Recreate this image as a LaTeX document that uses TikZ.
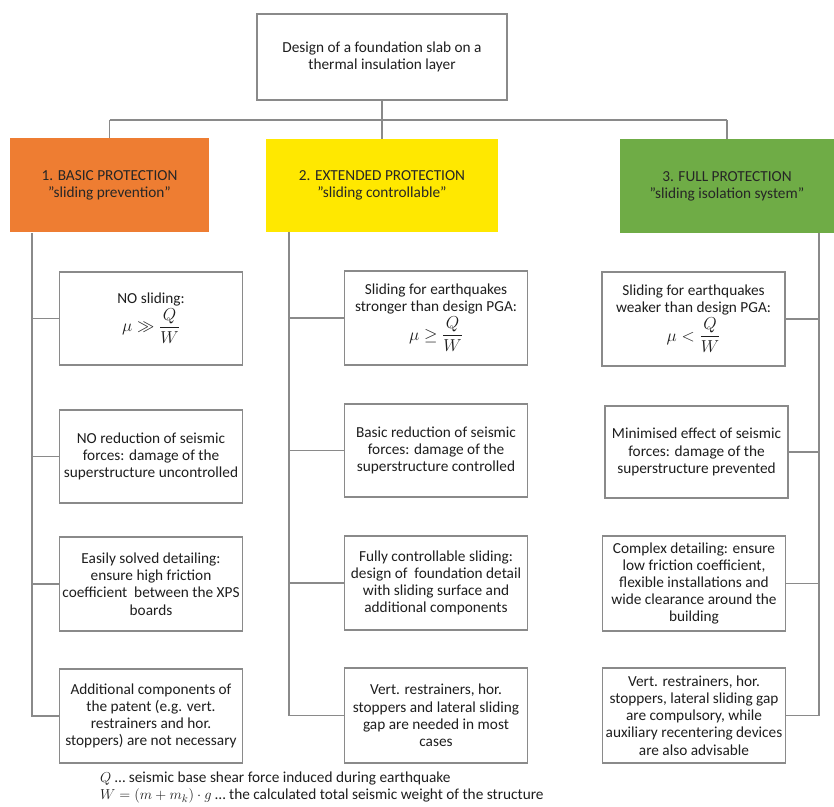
\documentclass[tikz,border=0pt]{standalone}
\usepackage{amsmath}
\usepackage{fontspec}
\setmainfont{Carlito}
% friction criterion, set a little larger than the body text
\newcommand\muratio[1]{{\fontsize{18}{20}\selectfont$\mu #1 \dfrac{Q}{W}$}}
\begin{document}
\definecolor{linegray}{HTML}{8A8A8A}
\definecolor{txt}{HTML}{1E1E1E}
\definecolor{orangebox}{HTML}{EE7D32}
\definecolor{yellowbox}{HTML}{FFE800}
\definecolor{greenbox}{HTML}{6FAC46}
\begin{tikzpicture}[x=1pt,y=-1pt,
  every node/.style={font=\fontsize{15.3}{17.2}\selectfont, text=txt, align=center, inner sep=0pt},
  wire/.style={draw=linegray, line width=1.4pt},
  headbox/.style={draw=linegray, line width=1.4pt, fill=white, minimum width=250pt, minimum height=86pt},
  levelbox/.style={minimum height=94pt, text=black!85},
  infobox/.style={draw=linegray, line width=1.4pt, fill=white, minimum width=183pt, minimum height=93pt}
]
\useasboundingbox (0,0) rectangle (834,806);
\fill[white] (0,0) rectangle (834,806);

% root
\node[headbox] (root) at (382,57) {Design of a foundation slab on a\\ thermal insulation layer};

% protection levels
\node[levelbox, fill=orangebox, minimum width=199pt] (basic) at (109.5,185) {1. BASIC PROTECTION\\ "sliding prevention"};
\node[levelbox, fill=yellowbox, minimum width=232pt, minimum height=93pt] (ext) at (382,185.5) {2. EXTENDED PROTECTION\\ "sliding controllable"};
\node[levelbox, fill=greenbox, minimum width=214pt] (full) at (727,186) {3. FULL PROTECTION\\ "sliding isolation system"};

% bus between root and levels
\coordinate (busL) at (basic.north |- 0,120);
\coordinate (busR) at (full.north |- 0,120);
\draw[wire] (busL) -- (busR);
\draw[wire] (root.south) -- (root.south |- busL);
\draw[wire] (busL) -- (basic.north);
\draw[wire] (root.south |- busL) -- (ext.north);
\draw[wire] (busR) -- (full.north);

% column 1
\node[infobox] (l1) at (151,318.5) {NO sliding:\\[1pt] \muratio{\gg}};
\node[infobox] (l2) at (151,456.5) {NO reduction of seismic\\ forces: damage of the\\ superstructure uncontrolled};
\node[infobox, minimum height=94pt] (l3) at (151,584) {Easily solved detailing:\\ ensure high friction\\ coefficient\ \ between the XPS\\ boards};
\node[infobox, minimum height=94pt] (l4) at (151,716) {Additional components of\\ the patent (e.g. vert.\\ restrainers and hor.\\ stoppers) are not necessary};

% column 2
\node[infobox, minimum height=94pt] (m1) at (436,318) {Sliding for earthquakes\\ stronger than design PGA:\\[1pt] \muratio{\geq}};
\node[infobox] (m2) at (436,450.5) {Basic reduction of seismic\\ forces: damage of the\\ superstructure controlled};
\node[infobox, minimum height=94pt] (m3) at (436,583) {Fully controllable sliding:\\ design of\ \ foundation detail\\ with sliding surface and\\ additional components};
\node[infobox, minimum height=95pt] (m4) at (436,715.5) {Vert. restrainers, hor.\\ stoppers and lateral sliding\\ gap are needed in most\\ cases};

% column 3
\node[infobox, minimum height=94pt] (r1) at (693.5,319) {Sliding for earthquakes\\ weaker than design PGA:\\[1pt] \muratio{<}};
\node[infobox, minimum height=92pt] (r2) at (696.5,452) {Minimised effect of seismic\\ forces: damage of the\\ superstructure prevented};
\node[infobox, minimum height=95pt] (r3) at (694,583.5) {Complex detailing: ensure\\ low friction coefficient,\\ flexible installations and\\ wide clearance around the\\ building};
\node[infobox, minimum height=95pt] (r4) at (694,715.5) {Vert. restrainers, hor.\\ stoppers, lateral sliding gap\\ are compulsory, while\\ auxiliary recentering devices\\ are also advisable};

% stems under each level
\coordinate (lstem) at (32,233);
\coordinate (mstem) at (289,232);
\coordinate (rstem) at (819,233);
\draw[wire] (lstem) |- (l4.west);
\draw[wire] (mstem) |- (m4.west);
\draw[wire] (rstem) |- (r4.east);
\foreach \i in {1,2,3}{
  \draw[wire] (l\i.west) -- (l\i.west -| lstem);
  \draw[wire] (m\i.west) -- (m\i.west -| mstem);
  \draw[wire] (r\i.east) -- (r\i.east -| rstem);
}

% notation
\node[anchor=west, align=left] (noteQ) at (100,779) {$Q$ \ldots\ seismic base shear force induced during earthquake};
\node[anchor=west, align=left] (noteW) at (100,796) {$W = (m + m_k)\cdot g$ \ldots\ the calculated total seismic weight of the structure};
\end{tikzpicture}
\end{document}
